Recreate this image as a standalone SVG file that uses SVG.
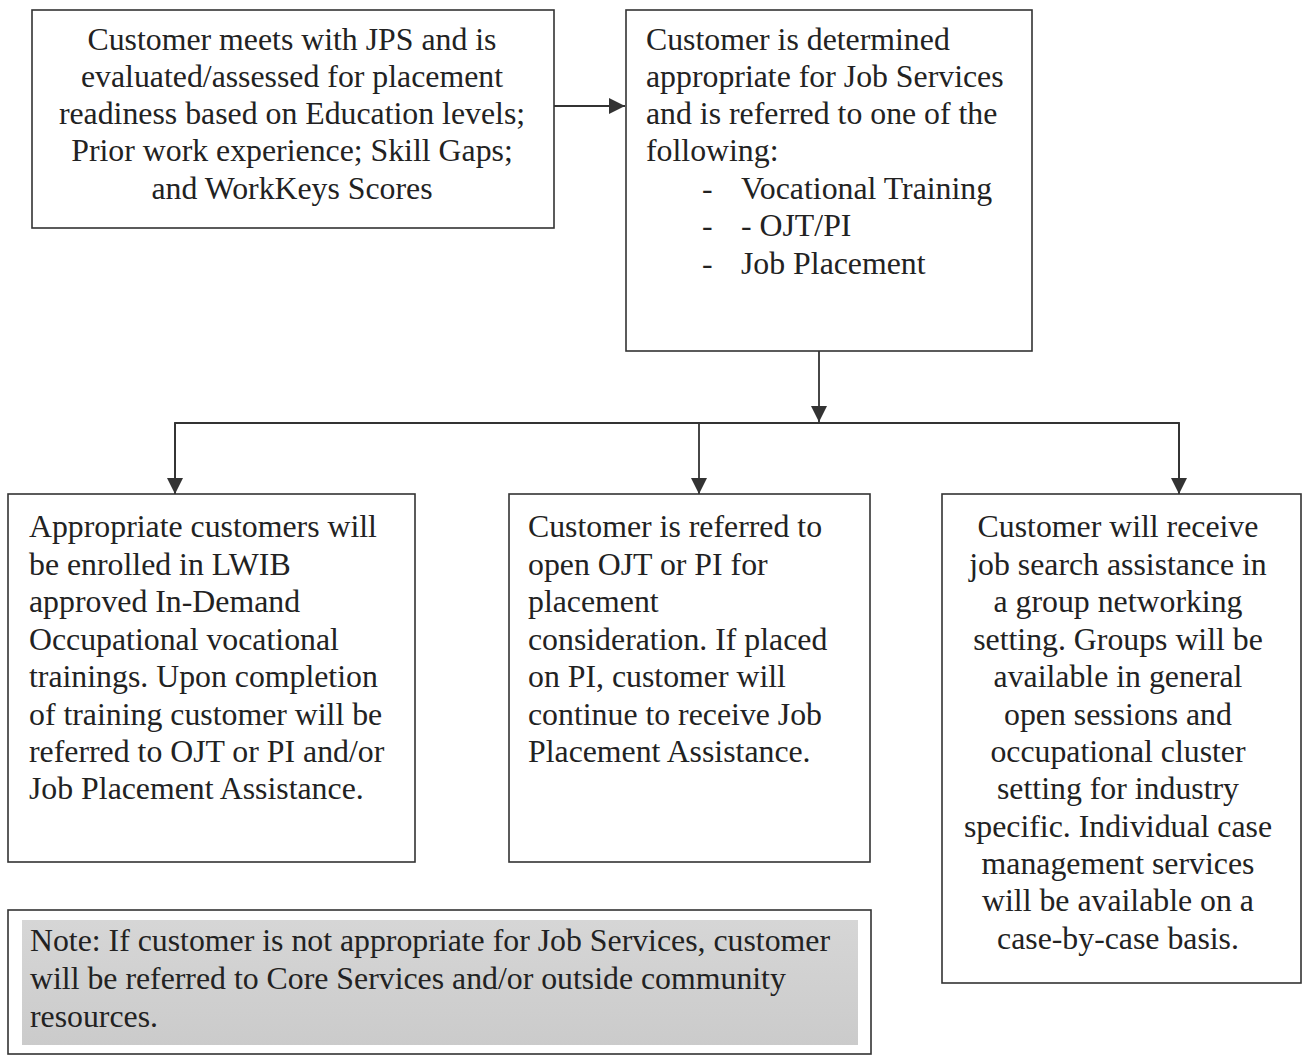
<svg xmlns="http://www.w3.org/2000/svg" width="1302" height="1056" viewBox="0 0 1302 1056">
<style>
.box{fill:#fff;stroke:#333;stroke-width:1.6}
.t{font-family:"Liberation Serif","Times New Roman",serif;font-size:31.8px;fill:#222}
.c{text-anchor:middle}
.ln{stroke:#333;stroke-width:1.8;fill:none}
</style>
<defs>
<marker id="ah" viewBox="0 0 10 10" refX="10" refY="5" markerWidth="16" markerHeight="16" markerUnits="userSpaceOnUse" orient="auto">
<path d="M0,0 L10,5 L0,10 z" fill="#333"/>
</marker>
<linearGradient id="ng" x1="0" y1="0" x2="0" y2="1">
<stop offset="0" stop-color="#d6d6d6"/>
<stop offset="1" stop-color="#cbcbcb"/>
</linearGradient>
</defs>
<rect width="1302" height="1056" fill="#fff"/>
<g id="connectors">
<line class="ln" x1="554" y1="106" x2="625" y2="106" marker-end="url(#ah)"/>
<line class="ln" x1="819" y1="351" x2="819" y2="422" marker-end="url(#ah)"/>
<polyline class="ln" points="175,494 175,423 1179,423 1179,494"/>
<line class="ln" x1="175" y1="423" x2="175" y2="494" marker-end="url(#ah)"/>
<line class="ln" x1="699" y1="423" x2="699" y2="494" marker-end="url(#ah)"/>
<line class="ln" x1="1179" y1="423" x2="1179" y2="494" marker-end="url(#ah)"/>
</g>
<g id="n1">
<rect class="box" x="32" y="10" width="522" height="218"/>
<text class="t c" x="292" y="50">Customer meets with JPS and is</text>
<text class="t c" x="292" y="87">evaluated/assessed for placement</text>
<text class="t c" x="292" y="124">readiness based on Education levels;</text>
<text class="t c" x="292" y="161">Prior work experience; Skill Gaps;</text>
<text class="t c" x="292" y="199">and WorkKeys Scores</text>
</g>
<g id="n2">
<rect class="box" x="626" y="10" width="406" height="341"/>
<text class="t" x="646" y="50">Customer is determined</text>
<text class="t" x="646" y="87">appropriate for Job Services</text>
<text class="t" x="646" y="124">and is referred to one of the</text>
<text class="t" x="646" y="161">following:</text>
<text class="t" x="702" y="199">-</text>
<text class="t" x="741" y="199">Vocational Training</text>
<text class="t" x="702" y="236">-</text>
<text class="t" x="741" y="236">- OJT/PI</text>
<text class="t" x="702" y="274">-</text>
<text class="t" x="741" y="274">Job Placement</text>
</g>
<g id="n3">
<rect class="box" x="8" y="494" width="407" height="368"/>
<text class="t" x="29" y="537">Appropriate customers will</text>
<text class="t" x="29" y="575">be enrolled in LWIB</text>
<text class="t" x="29" y="612">approved In-Demand</text>
<text class="t" x="29" y="650">Occupational vocational</text>
<text class="t" x="29" y="687">trainings. Upon completion</text>
<text class="t" x="29" y="725">of training customer will be</text>
<text class="t" x="29" y="762">referred to OJT or PI and/or</text>
<text class="t" x="29" y="799">Job Placement Assistance.</text>
</g>
<g id="n4">
<rect class="box" x="509" y="494" width="361" height="368"/>
<text class="t" x="528" y="537">Customer is referred to</text>
<text class="t" x="528" y="575">open OJT or PI for</text>
<text class="t" x="528" y="612">placement</text>
<text class="t" x="528" y="650">consideration. If placed</text>
<text class="t" x="528" y="687">on PI, customer will</text>
<text class="t" x="528" y="725">continue to receive Job</text>
<text class="t" x="528" y="762">Placement Assistance.</text>
</g>
<g id="n5">
<rect class="box" x="942" y="494" width="359" height="489"/>
<text class="t c" x="1118" y="537">Customer will receive</text>
<text class="t c" x="1118" y="575">job search assistance in</text>
<text class="t c" x="1118" y="612">a group networking</text>
<text class="t c" x="1118" y="650">setting. Groups will be</text>
<text class="t c" x="1118" y="687">available in general</text>
<text class="t c" x="1118" y="725">open sessions and</text>
<text class="t c" x="1118" y="762">occupational cluster</text>
<text class="t c" x="1118" y="799">setting for industry</text>
<text class="t c" x="1118" y="837">specific. Individual case</text>
<text class="t c" x="1118" y="874">management services</text>
<text class="t c" x="1118" y="911">will be available on a</text>
<text class="t c" x="1118" y="949">case-by-case basis.</text>
</g>
<g id="note">
<rect class="box" x="8" y="910" width="863" height="144"/>
<rect x="22" y="920" width="836" height="125" fill="url(#ng)"/>
<text class="t" x="30" y="951">Note: If customer is not appropriate for Job Services, customer</text>
<text class="t" x="30" y="989">will be referred to Core Services and/or outside community</text>
<text class="t" x="30" y="1027">resources.</text>
</g>
</svg>
